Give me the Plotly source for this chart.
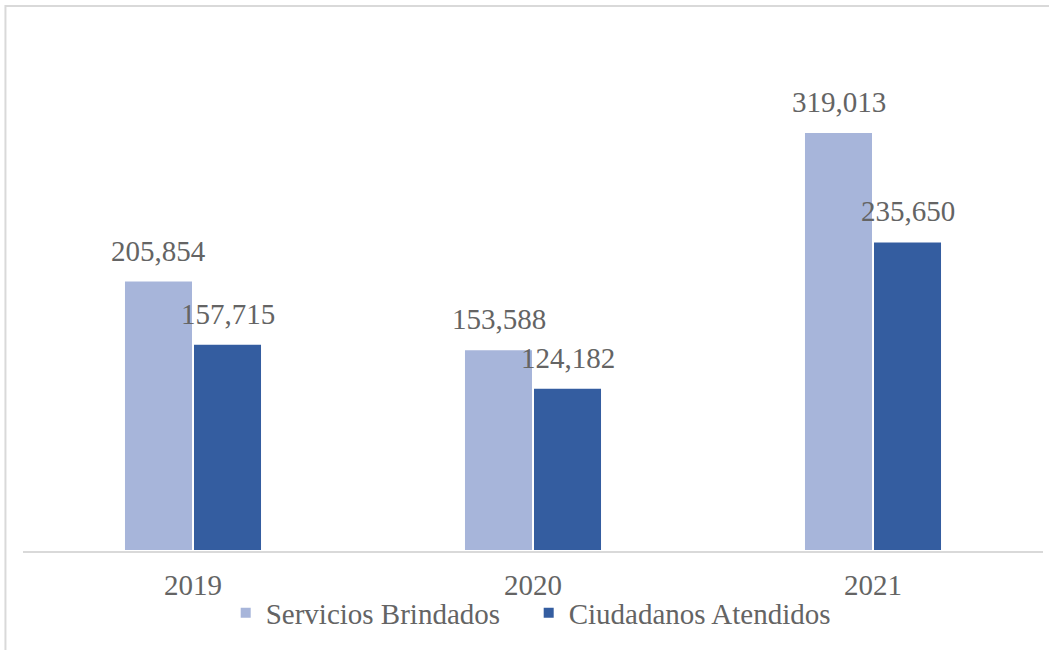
import plotly.graph_objects as go

# Annual service figures
years = ["2019", "2020", "2021"]
servicios = [205854, 153588, 319013]
ciudadanos = [157715, 124182, 235650]
series_names = ["Servicios Brindados", "Ciudadanos Atendidos"]
series_colors = ["#A7B5DA", "#345DA0"]

FONT = "Liberation Serif, DejaVu Serif, Times New Roman, serif"
TEXT_COLOR = "#646464"
SIZE = 29

fig = go.Figure()
for name, vals, col in zip(series_names, [servicios, ciudadanos], series_colors):
    fig.add_trace(go.Bar(
        x=years, y=vals, name=name,
        marker=dict(color=col, line=dict(color="white", width=2)),
    ))

# value labels above each bar (category index on x, pixel offset to each bar)
for vals, shift in zip([servicios, ciudadanos], [-34.5, 34.5]):
    for i, v in enumerate(vals):
        fig.add_annotation(
            x=i, y=v, xref="x", yref="y", text=f"{v:,}", showarrow=False,
            xshift=shift, yanchor="bottom", yshift=12,
            font=dict(family=FONT, size=SIZE, color=TEXT_COLOR),
        )

# chart frame
fig.add_shape(
    type="rect", xref="paper", yref="paper",
    x0=-0.0172, x1=1.01, y0=-0.22, y1=1.0665,
    line=dict(color="#D9D9D9", width=2), fillcolor="rgba(0,0,0,0)",
    layer="below",
)

fig.update_layout(
    width=1049, height=650,
    margin=dict(l=23, r=6, t=40, b=99),
    paper_bgcolor="white", plot_bgcolor="white",
    barmode="group", bargap=0.594, bargroupgap=0,
    font=dict(family=FONT, size=SIZE, color=TEXT_COLOR),
    showlegend=True,
    legend=dict(
        orientation="h", xref="container", yref="container",
        x=0.504, xanchor="center", y=0.057, yanchor="middle",
        bgcolor="rgba(0,0,0,0)",
        font=dict(family=FONT, size=SIZE, color=TEXT_COLOR),
        entrywidth=258, itemclick=False,
    ),
    xaxis=dict(
        type="category", automargin=False,
        showline=True, linecolor="#D9D9D9", linewidth=1.5,
        showgrid=False, ticks="", ticklabelstandoff=7,
        tickfont=dict(family=FONT, size=SIZE, color=TEXT_COLOR),
        range=[-0.5, 2.5],
    ),
    yaxis=dict(
        range=[0, 389000], showgrid=False, showticklabels=False,
        zeroline=False, showline=False, automargin=False,
    ),
)

fig.write_html("out.html")
